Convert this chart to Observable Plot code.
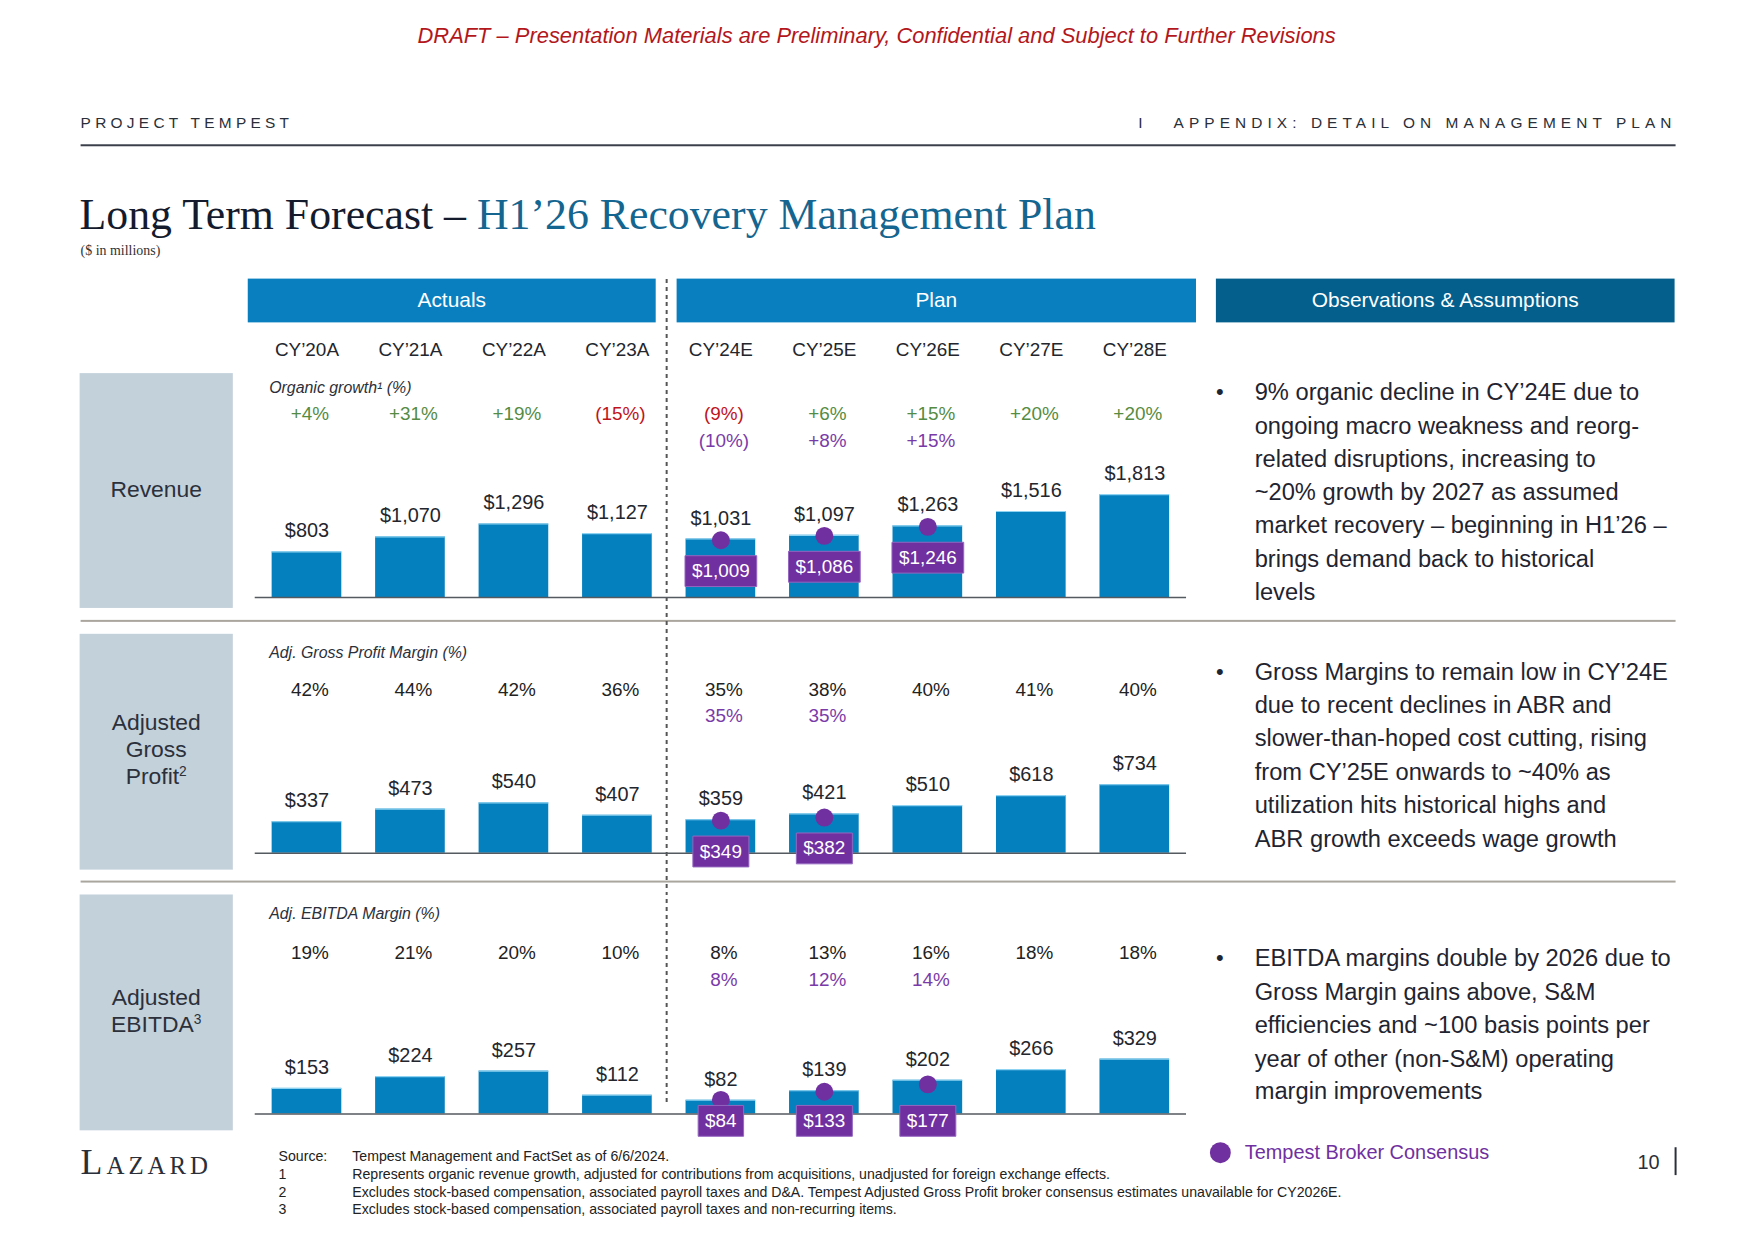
<!DOCTYPE html>
<html>
<head>
<meta charset="utf-8">
<script src="https://cdn.jsdelivr.net/npm/d3@7"></script>
<script src="https://cdn.jsdelivr.net/npm/@observablehq/plot@0.6"></script>
<style>
  html, body { margin: 0; padding: 0; background: #fff; width: 1755px; height: 1241px; overflow: hidden; }
  #page { position: relative; width: 1755px; height: 1241px; overflow: hidden; background: #fff;
          transform: scale(0.995); transform-origin: 0 0;
          font-family: "Liberation Sans", Arial, sans-serif; color: #1f2430; }
  .abs { position: absolute; white-space: nowrap; }
  .hdrbox { position: absolute; top: 280px; height: 44px; line-height: 44px; color: #fff; text-align: center; font-size: 21px; }
  .gray { position: absolute; left: 80px; width: 154px; background: #c3d1db; }
  .glabel { position: absolute; left: 80px; width: 154px; text-align: center; font-size: 23px; line-height: 27px; color: #2b303a; }
  .sep { position: absolute; left: 81px; width: 1603px; height: 2px; background: #aaa69e; }
  .obs { position: absolute; left: 1261px; font-size: 23.8px; line-height: 33.5px; color: #1f2430; white-space: nowrap; }
  .bullet { position: absolute; left: 1222px; font-size: 22px; line-height: 33.5px; color: #1f2430; }
  .fn { position: absolute; font-size: 14.2px; line-height: 18px; color: #222; white-space: nowrap; }
  .chart { position: absolute; left: 200px; width: 1010px; }
  sup { font-size: 0.6em; vertical-align: 0.6em; line-height: 0; }
</style>
</head>
<body>
<div id="page">
  <div class="abs" style="left:881px; top:23px; transform:translateX(-50%); font-size:22px; font-style:italic; color:#b3171c;">DRAFT – Presentation Materials are Preliminary, Confidential and Subject to Further Revisions</div>

  <div class="abs" style="left:81px; top:114px; font-size:15.5px; line-height:20px; letter-spacing:4.3px; color:#2a2f3a;">PROJECT TEMPEST</div>
  <div class="abs" style="left:1144px; top:114px; font-size:15.5px; line-height:20px; color:#2a2f3a;">I</div>
  <div class="abs" style="right:70px; top:114px; font-size:15.5px; line-height:20px; letter-spacing:5.1px; color:#2a2f3a;">APPENDIX: DETAIL ON MANAGEMENT PLAN</div>
  <div class="abs" style="left:81px; top:145px; width:1603px; height:2px; background:#3a3f4a;"></div>

  <div class="abs" style="left:80px; top:190px; font-family:'Liberation Serif', 'DejaVu Serif', serif; font-size:44px; line-height:52px; color:#141b2d;">Long Term Forecast – <span style="color:#14658f;">H1’26 Recovery Management Plan</span></div>
  <div class="abs" style="left:81px; top:243px; font-family:'Liberation Serif', serif; font-size:14px; line-height:18px; color:#333;">($ in millions)</div>

  <div class="hdrbox" style="left:249px; width:410px; background:#0a7fc0;">Actuals</div>
  <div class="hdrbox" style="left:680px; width:522px; background:#0a7fc0;">Plan</div>
  <div class="hdrbox" style="left:1222px; width:461px; background:#045f8d;">Observations &amp; Assumptions</div>

  <div class="gray" style="top:375px; height:236px;"></div>
  <div class="gray" style="top:637px; height:237px;"></div>
  <div class="gray" style="top:899px; height:237px;"></div>
  <div class="glabel" style="top:478px;">Revenue</div>
  <div class="glabel" style="top:713px;">Adjusted<br>Gross<br>Profit<sup>2</sup></div>
  <div class="glabel" style="top:989px;">Adjusted<br>EBITDA<sup>3</sup></div>

  <div class="sep" style="top:623px;"></div>
  <div class="sep" style="top:885px;"></div>

  <div class="abs" style="left:669px; top:280px; width:1.5px; height:828px; background:repeating-linear-gradient(to bottom, #555 0 4px, transparent 4px 8px);"></div>

  <div id="rev" class="chart" style="top:330px; height:290px;"></div>
  <div id="gp" class="chart" style="top:630px; height:250px;"></div>
  <div id="ebitda" class="chart" style="top:890px; height:260px;"></div>

  <div class="bullet" style="top:377px;">•</div>
  <div class="obs" style="top:377px;">9% organic decline in CY’24E due to<br>ongoing macro weakness and reorg-<br>related disruptions, increasing to<br>~20% growth by 2027 as assumed<br>market recovery – beginning in H1’26 –<br>brings demand back to historical<br>levels</div>
  <div class="bullet" style="top:658px;">•</div>
  <div class="obs" style="top:658px;">Gross Margins to remain low in CY’24E<br>due to recent declines in ABR and<br>slower-than-hoped cost cutting, rising<br>from CY’25E onwards to ~40% as<br>utilization hits historical highs and<br>ABR growth exceeds wage growth</div>
  <div class="bullet" style="top:946px;">•</div>
  <div class="obs" style="top:946px;">EBITDA margins double by 2026 due to<br>Gross Margin gains above, S&amp;M<br>efficiencies and ~100 basis points per<br>year of other (non-S&amp;M) operating<br>margin improvements</div>

  <div class="abs" style="left:1216px; top:1148px; width:21px; height:21px; border-radius:50%; background:#7030a0;"></div>
  <div class="abs" style="left:1251px; top:1146px; font-size:20px; line-height:24px; color:#7030a0;">Tempest Broker Consensus</div>

  <div class="abs" style="left:81px; top:1146px; font-family:'Liberation Serif', serif; font-size:36px; line-height:44px; font-variant:small-caps; letter-spacing:4px; color:#2a2f3a;">Lazard</div>

  <div class="fn" style="left:280px; top:1153px;">Source:</div>
  <div class="fn" style="left:354px; top:1153px;">Tempest Management and FactSet as of 6/6/2024.</div>
  <div class="fn" style="left:280px; top:1171px;">1</div>
  <div class="fn" style="left:354px; top:1171px;">Represents organic revenue growth, adjusted for contributions from acquisitions, unadjusted for foreign exchange effects.</div>
  <div class="fn" style="left:280px; top:1189px;">2</div>
  <div class="fn" style="left:354px; top:1189px;">Excludes stock-based compensation, associated payroll taxes and D&amp;A. Tempest Adjusted Gross Profit broker consensus estimates unavailable for CY2026E.</div>
  <div class="fn" style="left:280px; top:1206px;">3</div>
  <div class="fn" style="left:354px; top:1206px;">Excludes stock-based compensation, associated payroll taxes and non-recurring items.</div>

  <div class="abs" style="right:87px; top:1156px; font-size:20px; line-height:24px; color:#2a2f3a;">10</div>
  <div class="abs" style="left:1683px; top:1153px; width:1.5px; height:28px; background:#2a2f3a;"></div>
</div>

<script>
// ---------------- DATA ----------------
const categories = ["CY’20A", "CY’21A", "CY’22A", "CY’23A", "CY’24E", "CY’25E", "CY’26E", "CY’27E", "CY’28E"];

const revenue = [803, 1070, 1296, 1127, 1031, 1097, 1263, 1516, 1813];
const revenueConsensusCategories = ["CY’24E", "CY’25E", "CY’26E"];
const revenueConsensus = [1009, 1086, 1246];
const organicGrowth = ["+4%", "+31%", "+19%", "(15%)", "(9%)", "+6%", "+15%", "+20%", "+20%"];
const organicGrowthConsensus = ["(10%)", "+8%", "+15%"];

const grossProfit = [337, 473, 540, 407, 359, 421, 510, 618, 734];
const grossProfitConsensusCategories = ["CY’24E", "CY’25E"];
const grossProfitConsensus = [349, 382];
const grossMargin = ["42%", "44%", "42%", "36%", "35%", "38%", "40%", "41%", "40%"];
const grossMarginConsensus = ["35%", "35%"];

const ebitda = [153, 224, 257, 112, 82, 139, 202, 266, 329];
const ebitdaConsensusCategories = ["CY’24E", "CY’25E", "CY’26E"];
const ebitdaConsensus = [84, 133, 177];
const ebitdaMargin = ["19%", "21%", "20%", "10%", "8%", "13%", "16%", "18%", "18%"];
const ebitdaMarginConsensus = ["8%", "12%", "14%"];

// ---------------- STYLE ----------------
const BLUE = "#0580be";
const PURPLE = "#7030a0";
const fmt = d3.format("$,");

// rectangular symbol: half-width from r, fixed height
const boxSymbol = {
  draw(ctx, size) {
    const hw = Math.sqrt(size / Math.PI);
    ctx.moveTo(-hw, -15.5);
    ctx.lineTo(hw, -15.5);
    ctx.lineTo(hw, 15.5);
    ctx.lineTo(-hw, 15.5);
    ctx.closePath();
  }
};
function boxHalf(label) {
  let w = 0;
  for (const ch of label) w += (ch === "," ? 0.278 : 0.556) * 19;
  return (w + 14) / 2;
}
function growthColor(t) {
  if (t.startsWith("+")) return "#558c43";
  if (t.startsWith("(")) return "#c0141c";
  return "#222";
}

function panel(el, opts) {
  const data = categories.map((c, i) => ({cat: c, value: opts.values[i]}));
  const cons = opts.consCats.map((c, i) => ({cat: c, value: opts.cons[i], label: fmt(opts.cons[i])}));
  const row1 = categories.map((c, i) => ({cat: c, t: opts.row1[i]}));
  const row2 = opts.consCats.map((c, i) => ({cat: c, t: opts.row2[i]}));
  const boxY = opts.boxAtBase ? (() => 0) : "value";
  const marks = [
    Plot.barY(data, {x: "cat", y: "value", fill: BLUE}),
    Plot.tickY(data, {x: "cat", y: "value", stroke: "#8fd3f2", strokeWidth: 1.2}),
    Plot.ruleY([0], {stroke: "#555a60", strokeWidth: 1.5}),
    Plot.text(data, {x: "cat", y: "value", text: d => fmt(d.value), dy: -21, fontSize: 20, fill: "#23262d"}),
    Plot.dot(cons, {x: "cat", y: "value", r: 9, fill: PURPLE}),
    Plot.dot(cons, {x: "cat", y: boxY, r: d => boxHalf(d.label), symbol: boxSymbol, fill: PURPLE, stroke: "#9466c0", strokeWidth: 1, dy: opts.boxDy}),
    Plot.text(cons, {x: "cat", y: boxY, text: "label", dy: opts.boxDy, fill: "white", fontSize: 19}),
    Plot.text([opts.title], {frameAnchor: "top-left", lineAnchor: "middle", dx: 14, dy: opts.titleDy, textAnchor: "start", fontStyle: "italic", fontSize: 16, fill: "#2b303a"}),
    Plot.text(row1, {x: "cat", text: "t", frameAnchor: "top", lineAnchor: "middle", dx: 3, dy: opts.row1Dy, fontSize: 19, fill: d => growthColor(d.t)}),
    Plot.text(row2, {x: "cat", text: "t", frameAnchor: "top", lineAnchor: "middle", dx: 3, dy: opts.row2Dy, fontSize: 19, fill: "#7a3ba8"})
  ];
  if (opts.showCats) {
    marks.push(Plot.text(categories, {x: d => d, text: d => d, frameAnchor: "top", lineAnchor: "middle", dy: opts.catDy, fontSize: 19, fill: "#23262d"}));
  }
  const chart = Plot.plot({
    width: 1010,
    height: opts.height,
    marginLeft: 56,
    marginRight: 18,
    marginTop: opts.marginTop,
    marginBottom: opts.marginBottom,
    x: {domain: categories, paddingInner: 0.33, paddingOuter: 0.165, axis: null},
    y: {domain: opts.domain, axis: null},
    r: {type: "identity"},
    style: {fontFamily: "Liberation Sans, Arial, sans-serif", background: "transparent", overflow: "visible"},
    marks
  });
  document.getElementById(el).append(chart);
}

panel("rev", {
  values: revenue, consCats: revenueConsensusCategories, cons: revenueConsensus,
  row1: organicGrowth, row2: organicGrowthConsensus,
  title: "Organic growth¹ (%)",
  height: 290, marginTop: 156, marginBottom: 20, domain: [0, 2000],
  showCats: true, catDy: -135, titleDy: -97, row1Dy: -70, row2Dy: -43, boxDy: 31
});
panel("gp", {
  values: grossProfit, consCats: grossProfitConsensusCategories, cons: grossProfitConsensus,
  row1: grossMargin, row2: grossMarginConsensus,
  title: "Adj. Gross Profit Margin (%)",
  height: 250, marginTop: 152, marginBottom: 23, domain: [0, 800],
  titleDy: -126, row1Dy: -89, row2Dy: -63, boxDy: 31
});
panel("ebitda", {
  values: ebitda, consCats: ebitdaConsensusCategories, cons: ebitdaConsensus,
  row1: ebitdaMargin, row2: ebitdaMarginConsensus,
  title: "Adj. EBITDA Margin (%)",
  height: 260, marginTop: 162, marginBottom: 31, domain: [0, 400],
  titleDy: -134, row1Dy: -95, row2Dy: -68, boxDy: 7, boxAtBase: true
});
</script>
</body>
</html>
